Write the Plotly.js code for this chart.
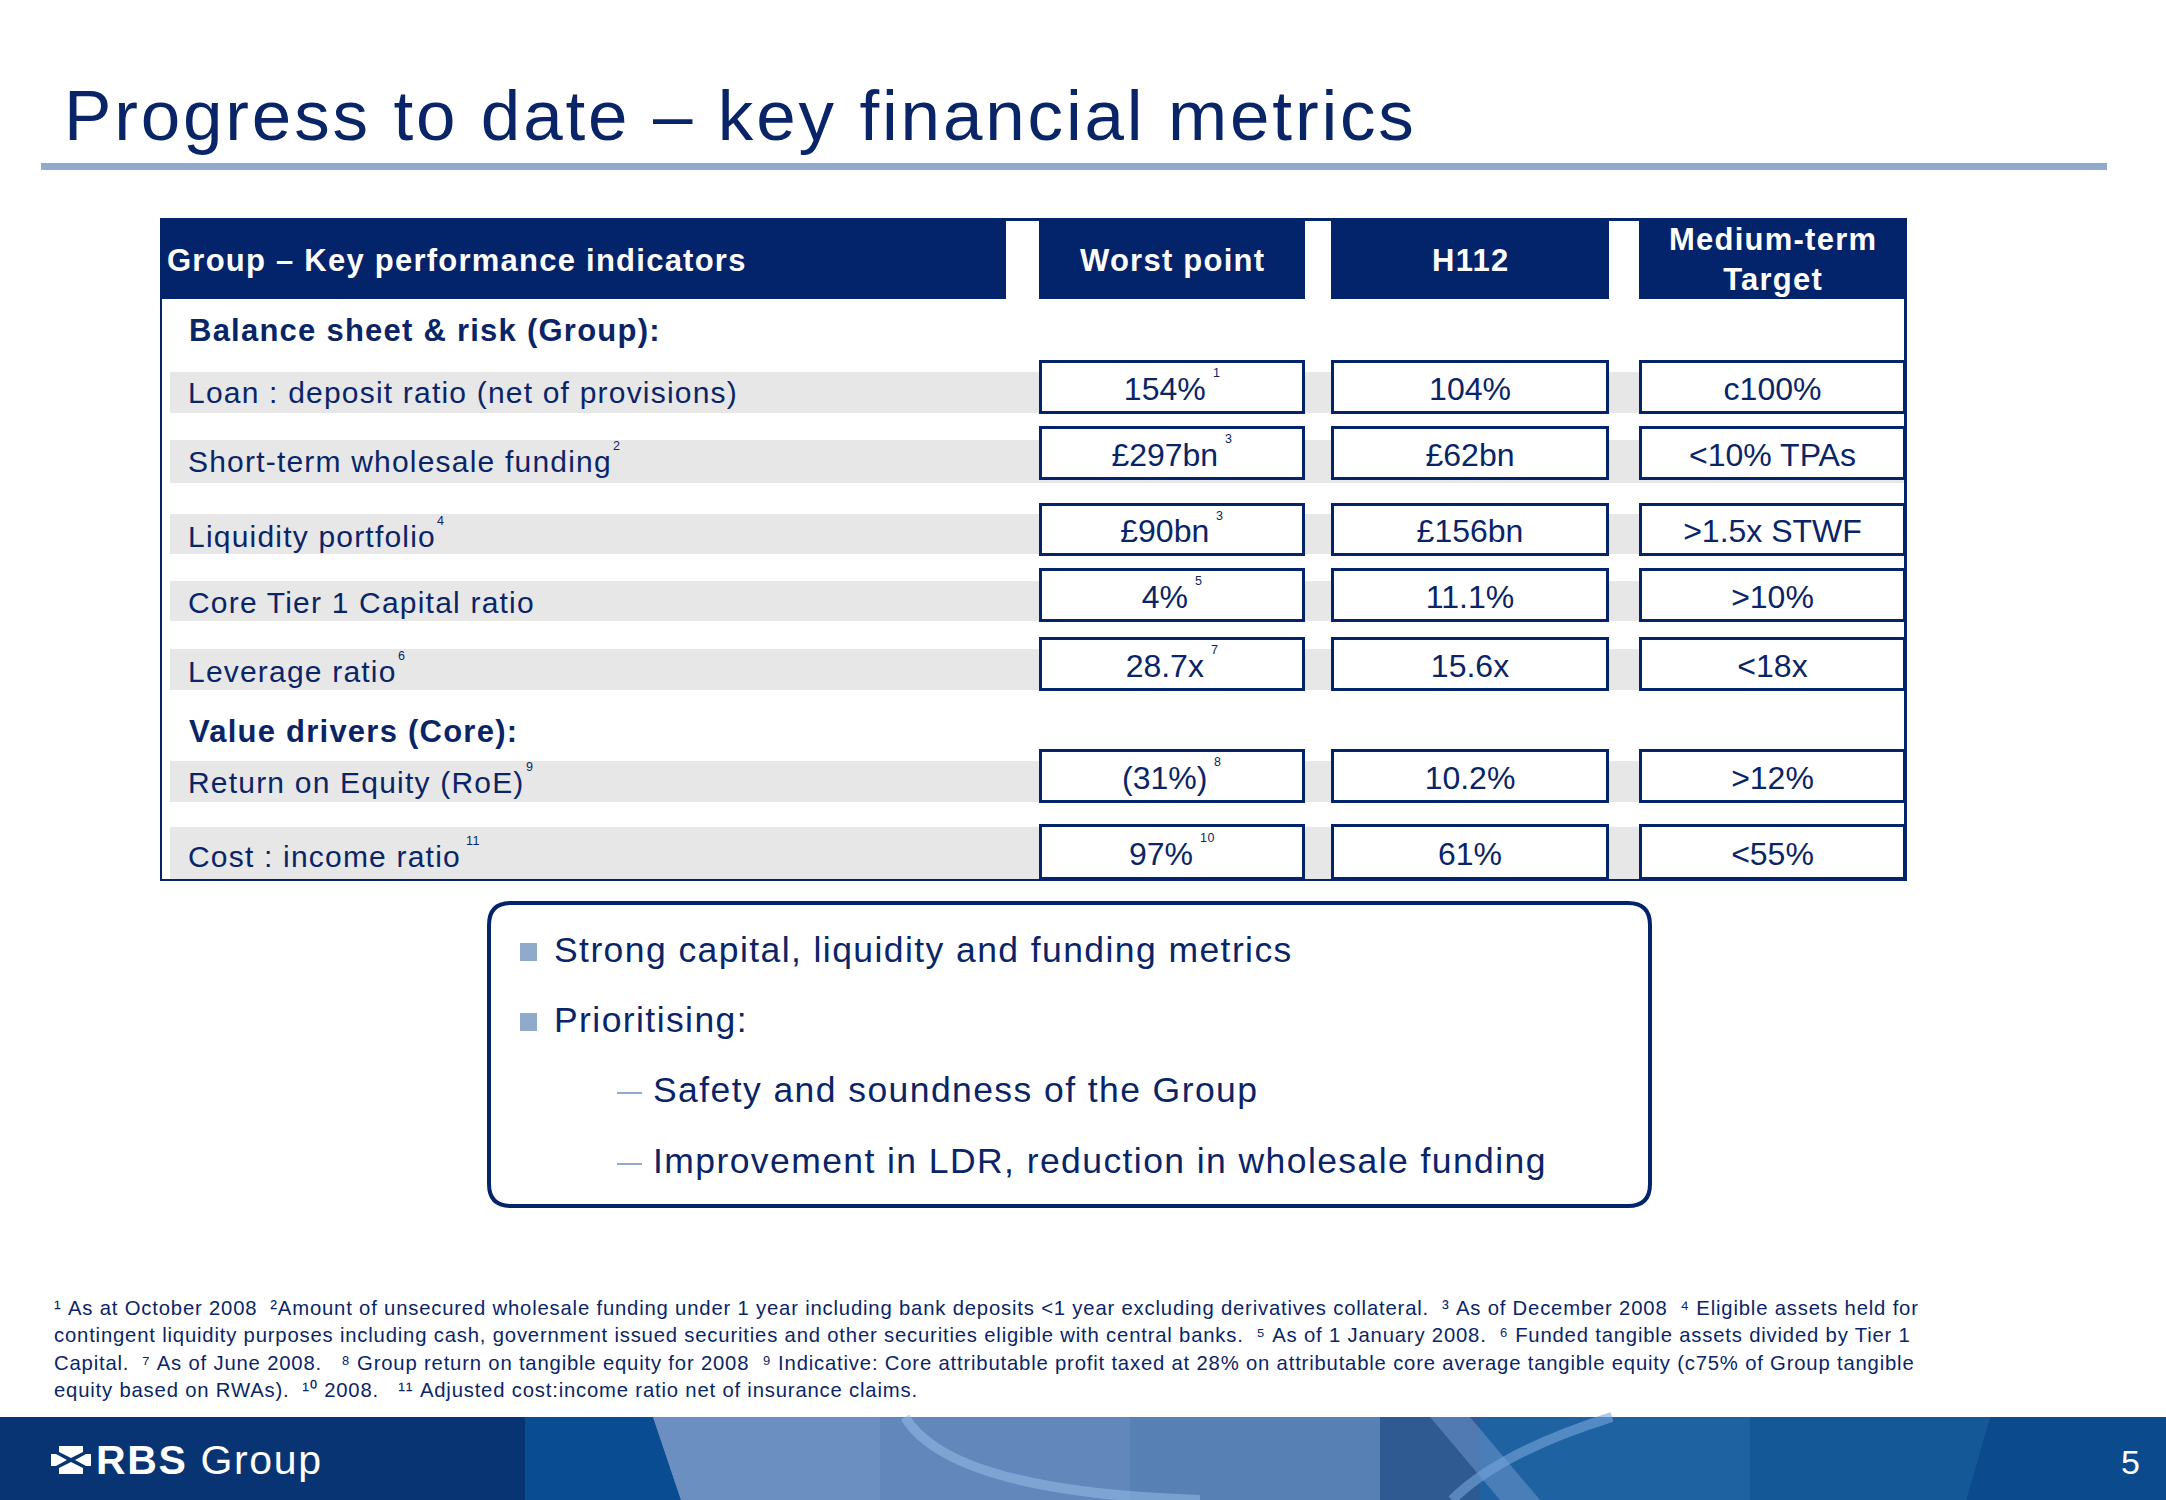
<!DOCTYPE html>
<html>
<head>
<meta charset="utf-8">
<script src="https://cdn.plot.ly/plotly-3.0.1.min.js"></script>
<style>
html, body { margin: 0; padding: 0; background: #ffffff; }
#chart { width: 2166px; height: 1500px; }
svg text { letter-spacing: 0.04em; }
.textpoint text { letter-spacing: 0; }
</style>
</head>
<body>
<div id="chart"></div>
<script>
// ---------------- DATA ----------------
const pageTitle = "Progress to date – key financial metrics";
const columnHeaders = ["Group – Key performance indicators", "Worst point", "H112", "Medium-term<br>Target"];
const sectionTitles = ["Balance sheet & risk (Group):", "Value drivers (Core):"];
const kpiLabels = [
  "Loan : deposit ratio (net of provisions)",
  "Short-term wholesale funding",
  "Liquidity portfolio",
  "Core Tier 1 Capital ratio",
  "Leverage ratio",
  "Return on Equity (RoE)",
  "Cost : income ratio"
];
const kpiLabelNotes = ["", "2", "4", "", "6", "9", "11"];
const worstPoint = ["154%", "£297bn", "£90bn", "4%", "28.7x", "(31%)", "97%"];
const worstPointNotes = ["1", "3", "3", "5", "7", "8", "10"];
const h112 = ["104%", "£62bn", "£156bn", "11.1%", "15.6x", "10.2%", "61%"];
const mediumTermTarget = ["c100%", "<10% TPAs", ">1.5x STWF", ">10%", "<18x", ">12%", "<55%"];
const bulletPoints = ["Strong capital, liquidity and funding metrics", "Prioritising:"];
const subBulletPoints = ["Safety and soundness of the Group", "Improvement in LDR, reduction in wholesale funding"];
const footnoteLines = [
  "\u00B9\u00A0As at October 2008 \u00A0\u00B2Amount of unsecured wholesale funding under 1 year including bank deposits <1 year excluding derivatives collateral. \u00A0\u00B3\u00A0As of December 2008 \u00A0\u2074\u00A0Eligible assets held for",
  "contingent liquidity purposes including cash, government issued securities and other securities eligible with central banks. \u00A0\u2075\u00A0As of 1 January 2008. \u00A0\u2076\u00A0Funded tangible assets divided by Tier 1",
  "Capital. \u00A0\u2077\u00A0As of June 2008. \u00A0\u00A0\u2078\u00A0Group return on tangible equity for 2008 \u00A0\u2079\u00A0Indicative: Core attributable profit taxed at 28% on attributable core average tangible equity (c75% of Group tangible",
  "equity based on RWAs). \u00A0\u00B9\u2070\u00A02008. \u00A0\u00A0\u00B9\u00B9\u00A0Adjusted cost:income ratio net of insurance claims."
];
const brandName = ["RBS", "Group"];
const pageNumber = "5";

// ---------------- LAYOUT GEOMETRY / STYLE ----------------
const FONT = "Liberation Sans, Arial, sans-serif";
const NAVY = "#0a2567";
const HEAD_FILL = "#03236a";
const GREY = "#e7e7e7";
const STEEL = "#8faacb";
const W = 2166, H = 1500;
const SPACING = 0.04;          // letter-spacing (em) applied to annotation text
const VALUE_SIZE = 32, LABEL_SIZE = 30, NOTE_SIZE = 12.5;

const frame = { x0: 160, x1: 1906, y0: 218, y1: 881 };
const headerBottom = 299;
const headerX = [[160, 1006], [1039, 1305], [1331, 1609], [1639, 1906]];
const headerBaseline = [271, 271, 271, 290];
const labelX = 188, bandX0 = 170;
const sectionBaseline = [341, 742];
const rowBox = [[360, 414], [426, 480], [503, 556], [568, 622], [637, 691], [749, 803], [824, 880]];
const rowBand = [[372, 413], [440, 483], [514, 554], [581, 621], [649, 690], [761, 802], [827, 880]];
const rowLabelBaseline = [403, 472, 547, 613, 682, 793, 867];
const calloutBox = { x0: 489, x1: 1650, y0: 903, y1: 1206, r: 22 };
const bulletX = [520, 537], bulletTextX = 554, bulletBaseline = [962, 1032];
const dashX = [617, 642], subTextX = 653, subBaseline = [1102, 1173];
const footX = 54, footBaseline = [1315, 1342, 1370, 1397];
const footerTop = 1417;

// ---------------- HELPERS ----------------
const shapes = [];
const annotations = [];
const measureCtx = document.createElement("canvas").getContext("2d");
function textWidth(str, size, bold, spacing) {
  measureCtx.font = (bold ? "bold " : "") + size + "px 'Liberation Sans', Arial, sans-serif";
  return measureCtx.measureText(str).width + spacing * size * Array.from(str).length;
}
function esc(s) { return s.replace(/&/g, "&amp;").replace(/</g, "&lt;").replace(/>/g, "&gt;"); }
function rect(x0, y0, x1, y1, fill, line) {
  shapes.push({ type: "rect", xref: "x", yref: "y", layer: "below", x0, y0, x1, y1,
    fillcolor: fill, line: line || { width: 0 } });
}
function poly(p, fill, line) {
  shapes.push({ type: "path", xref: "x", yref: "y", layer: "below", path: p,
    fillcolor: fill || "rgba(0,0,0,0)", line: line || { width: 0 } });
}
function seg(x0, y0, x1, y1, color, w) {
  shapes.push({ type: "line", xref: "x", yref: "y", layer: "below", x0, y0, x1, y1, line: { color, width: w } });
}
function label(x, baseline, t, size, opts) {
  opts = opts || {};
  annotations.push({
    xref: "x", yref: "y", x: x, y: baseline + 0.212 * size,
    xanchor: opts.anchor || "left", yanchor: "bottom", align: opts.anchor === "center" ? "center" : "left",
    showarrow: false, borderpad: 0, borderwidth: 0, text: t,
    font: { family: FONT, size: size, color: opts.color || NAVY, weight: opts.bold ? 700 : 400 }
  });
}

// ---------------- TITLE RULE ----------------
rect(41, 163, 2107, 170, STEEL);

// ---------------- TABLE ----------------
rowBand.forEach(b => rect(bandX0, b[0], frame.x1, b[1], GREY));
headerX.forEach(h => rect(h[0], frame.y0, h[1], headerBottom, HEAD_FILL));
const colCenters = headerX.slice(1).map(h => (h[0] + h[1]) / 2);
rowBox.forEach(b => {
  headerX.slice(1).forEach(h => rect(h[0] + 1.5, b[0] + 1.5, h[1] - 1.5, b[1] - 1.5, "#ffffff", { color: HEAD_FILL, width: 3 }));
});
seg(frame.x0, frame.y0 + 1.5, frame.x1 + 1, frame.y0 + 1.5, HEAD_FILL, 3);
seg(frame.x0 + 1, frame.y0, frame.x0 + 1, frame.y1, HEAD_FILL, 2);
seg(frame.x1 - 0.5, frame.y0, frame.x1 - 0.5, frame.y1, HEAD_FILL, 3);
seg(frame.x0, frame.y1 - 1, frame.x1 + 1, frame.y1 - 1, HEAD_FILL, 2);

// headers
label(167, headerBaseline[0], esc(columnHeaders[0]), 31, { color: "#ffffff", bold: true });
columnHeaders.slice(1).forEach((t, i) =>
  label(colCenters[i], headerBaseline[i + 1], t, 31, { color: "#ffffff", bold: true, anchor: "center" }));

// section titles
sectionTitles.forEach((t, i) => label(labelX + 1, sectionBaseline[i], esc(t), 31, { bold: true }));

// row labels + footnote markers
kpiLabels.forEach((t, i) => {
  label(labelX, rowLabelBaseline[i], esc(t), LABEL_SIZE);
  const n = kpiLabelNotes[i];
  if (n) {
    const gap = (i === kpiLabels.length - 1) ? 5 : 1;
    label(labelX + textWidth(t, LABEL_SIZE, false, SPACING) + gap, rowLabelBaseline[i] - 22, n, NOTE_SIZE);
  }
});

// values (drawn through the axes as text traces)
const rowMid = rowBox.map(b => (b[0] + b[1]) / 2 + 4.5);
const valueBaseline = rowMid.map(y => y + 0.25 * VALUE_SIZE);
const valueCols = [worstPoint, h112, mediumTermTarget];
const valueNotes = [worstPointNotes, null, null];
const traces = valueCols.map((col, c) => {
  const xs = col.map((v, i) => {
    const n = valueNotes[c] ? valueNotes[c][i] : "";
    if (!n) return colCenters[c];
    const vw = textWidth(v, VALUE_SIZE, false, 0);
    const nw = textWidth(n, NOTE_SIZE, false, SPACING);
    const gap = 7;
    const start = colCenters[c] - (vw + gap + nw) / 2;
    label(start + vw + gap, valueBaseline[i] - 22, n, NOTE_SIZE);
    return start + vw / 2;
  });
  return {
    type: "scatter", mode: "text", name: columnHeaders[c + 1].replace("<br>", " "),
    x: xs, y: rowMid, text: col.map(esc),
    textposition: "middle center", cliponaxis: false, hoverinfo: "skip", showlegend: false,
    textfont: { family: FONT, size: VALUE_SIZE, color: NAVY }
  };
});

// ---------------- CALLOUT BOX ----------------
(function () {
  const b = calloutBox, r = b.r;
  const p = `M ${b.x0 + r} ${b.y0} L ${b.x1 - r} ${b.y0} Q ${b.x1} ${b.y0} ${b.x1} ${b.y0 + r} L ${b.x1} ${b.y1 - r} ` +
    `Q ${b.x1} ${b.y1} ${b.x1 - r} ${b.y1} L ${b.x0 + r} ${b.y1} Q ${b.x0} ${b.y1} ${b.x0} ${b.y1 - r} ` +
    `L ${b.x0} ${b.y0 + r} Q ${b.x0} ${b.y0} ${b.x0 + r} ${b.y0} Z`;
  poly(p, "#ffffff", { color: HEAD_FILL, width: 4 });
})();
bulletPoints.forEach((t, i) => {
  rect(bulletX[0], bulletBaseline[i] - 19, bulletX[1], bulletBaseline[i] - 1, STEEL);
  label(bulletTextX, bulletBaseline[i], esc(t), 35.5);
});
subBulletPoints.forEach((t, i) => {
  rect(dashX[0], subBaseline[i] - 10, dashX[1], subBaseline[i] - 8, STEEL);
  label(subTextX, subBaseline[i], esc(t), 35.5);
});

// ---------------- FOOTNOTES ----------------
footnoteLines.forEach((t, i) => label(footX, footBaseline[i], esc(t), 20.3));

// ---------------- FOOTER BAND ----------------
const fy0 = footerTop, fy1 = H;
rect(0, fy0, W, fy1, "#0b4a8c");
rect(0, fy0, 525, fy1, "#093473");
poly(`M 525 ${fy0} L 653 ${fy0} L 681 ${fy1} L 525 ${fy1} Z`, "#0a4c92");
poly(`M 653 ${fy0} L 1380 ${fy0} L 1380 ${fy1} L 681 ${fy1} Z`, "#5780b4");
poly(`M 653 ${fy0} L 880 ${fy0} L 880 ${fy1} L 681 ${fy1} Z`, "#6a8fc0");
poly(`M 880 ${fy0} L 1130 ${fy0} L 1130 ${fy1} L 880 ${fy1} Z`, "#6187bb");
rect(1380, fy0, 1480, fy1, "#2f5991");
poly(`M 1480 ${fy0} L 1990 ${fy0} L 1966 ${fy1} L 1480 ${fy1} Z`, "#1f62a1");
poly(`M 1750 ${fy0} L 1990 ${fy0} L 1966 ${fy1} L 1750 ${fy1} Z`, "#155897");
poly(`M 1430 ${fy0} L 1470 ${fy0} L 1540 ${fy1} L 1500 ${fy1} Z`, "rgba(110,150,205,0.55)");
poly(`M 905 ${fy0} Q 950 1492 1200 1500`, null, { color: "rgba(150,188,232,0.55)", width: 10 });
poly(`M 1612 ${fy0} Q 1500 1452 1452 1500`, null, { color: "rgba(120,165,220,0.6)", width: 10 });
// RBS symbol (four inward arrows)
(function () {
  const cx = 71, cy = 1460;
  const white = "#ffffff";
  poly(`M ${cx - 12} ${cy - 14} L ${cx + 12} ${cy - 14} L ${cx + 12} ${cy - 8} L ${cx} ${cy - 2} L ${cx - 12} ${cy - 8} Z`, white);
  poly(`M ${cx - 12} ${cy + 14} L ${cx + 12} ${cy + 14} L ${cx + 12} ${cy + 8} L ${cx} ${cy + 2} L ${cx - 12} ${cy + 8} Z`, white);
  poly(`M ${cx - 20} ${cy - 6} L ${cx - 15} ${cy - 6} L ${cx - 4} ${cy} L ${cx - 15} ${cy + 6} L ${cx - 20} ${cy + 6} Z`, white);
  poly(`M ${cx + 20} ${cy - 6} L ${cx + 15} ${cy - 6} L ${cx + 4} ${cy} L ${cx + 15} ${cy + 6} L ${cx + 20} ${cy + 6} Z`, white);
})();
label(96, 1474, "<b>" + brandName[0] + "</b> " + brandName[1], 41, { color: "#ffffff" });
label(2131, 1474, pageNumber, 34, { color: "#ffffff", anchor: "center" });

// ---------------- LAYOUT ----------------
const layout = {
  width: W, height: H,
  margin: { l: 0, r: 0, t: 0, b: 0, pad: 0 },
  paper_bgcolor: "#ffffff", plot_bgcolor: "rgba(0,0,0,0)",
  showlegend: false,
  title: {
    text: pageTitle,
    font: { family: FONT, size: 71, color: NAVY },
    xref: "container", yref: "container",
    x: 64 / W, xanchor: "left",
    y: 1 - 140 / H, yanchor: "bottom",
    pad: { t: 0, b: 0, l: 0, r: 0 }
  },
  xaxis: { range: [0, W], visible: false, fixedrange: true, domain: [0, 1] },
  yaxis: { range: [H, 0], visible: false, fixedrange: true, domain: [0, 1] },
  shapes: shapes,
  annotations: annotations
};

Plotly.newPlot("chart", traces, layout, { staticPlot: true, displayModeBar: false });
</script>
</body>
</html>
